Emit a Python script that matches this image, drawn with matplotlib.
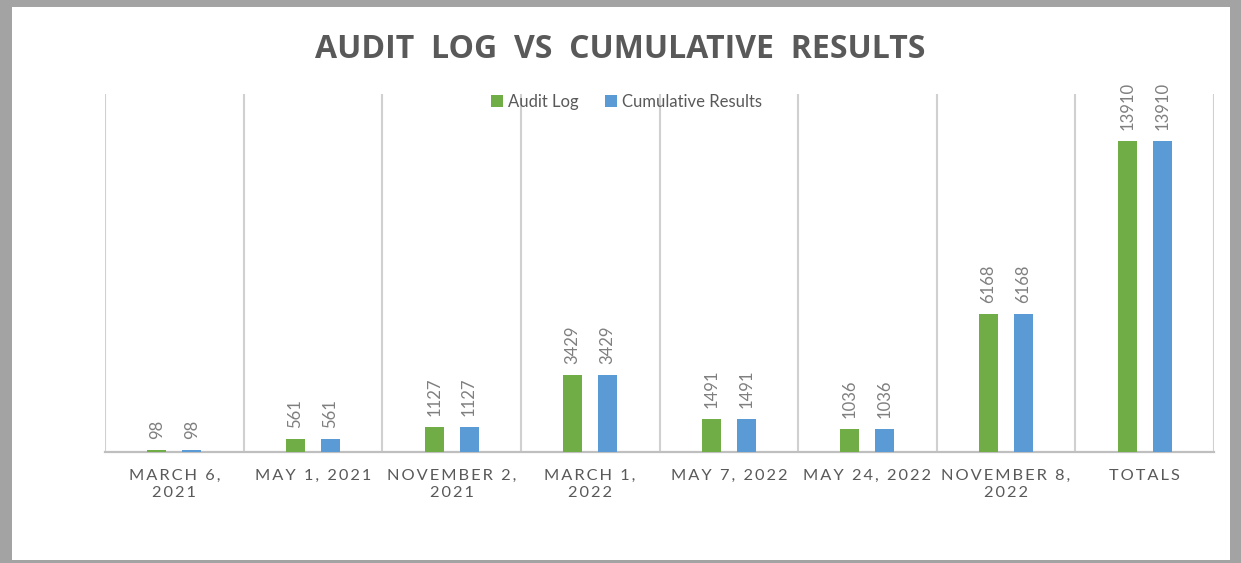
import numpy as np
import matplotlib
matplotlib.use("Agg")
import matplotlib.pyplot as plt
from matplotlib.patches import Rectangle

# chart data
dates = ["MARCH 6,\n2021", "MAY 1, 2021", "NOVEMBER 2,\n2021", "MARCH 1,\n2022",
         "MAY 7, 2022", "MAY 24, 2022", "NOVEMBER 8,\n2022", "TOTALS"]
audit_log = [98, 561, 1127, 3429, 1491, 1036, 6168, 13910]
cumulative = [98, 561, 1127, 3429, 1491, 1036, 6168, 13910]

GREEN = "#70AD47"
BLUE = "#5B9BD5"
TEXT = "#595959"
GRID = "#d0d0d0"


def spaced(s, sep="\u2009"):
    # widen letter spacing line by line
    return "\n".join(sep.join(line) for line in s.split("\n"))


fig = plt.figure(figsize=(12.41, 5.63), dpi=100)
fig.patch.set_facecolor("#a3a3a3")
fig.patches.append(Rectangle((12 / 1241, 1 - 560 / 563), (1230 - 12) / 1241, (560 - 7) / 563,
                             transform=fig.transFigure, facecolor="white", edgecolor="none", zorder=-1))

ax = fig.add_axes([105 / 1241, 1 - 452 / 563, (1214 - 105) / 1241, (452 - 94) / 563])
ax.set_facecolor("none")
ax.set_zorder(2)

x = np.arange(len(dates))
w = 0.137
off = 0.126
b1 = ax.bar(x - off, audit_log, w, color=GREEN, label="Audit Log", zorder=3)
b2 = ax.bar(x + off, cumulative, w, color=BLUE, label="Cumulative Results", zorder=3)

for bars in (b1, b2):
    for rect in bars:
        h = rect.get_height()
        ax.annotate(f"{h:d}", (rect.get_x() + rect.get_width() / 2, h),
                    xytext=(0, 8), textcoords="offset points", rotation=90,
                    ha="center", va="bottom", fontsize=12, color="#7f7f7f",
                    family="Lato")

ax.set_xlim(-0.5, len(dates) - 0.5)
ax.set_ylim(0, 16000)
ax.set_yticks([])

# category separators
for b in np.arange(-0.5, len(dates), 1.0):
    ax.axvline(b, color=GRID, lw=1.5, zorder=1)

for s in ("top", "left", "right"):
    ax.spines[s].set_visible(False)
ax.spines["bottom"].set_color("#bfbfbf")
ax.spines["bottom"].set_linewidth(1.6)

ax.set_xticks(x)
ax.set_xticklabels([spaced(d) for d in dates], fontsize=11.8, color=TEXT,
                   family=["Lato", "DejaVu Sans"], linespacing=1.3)
ax.tick_params(axis="x", length=0, pad=12)

leg = ax.legend(loc="center", bbox_to_anchor=(0.47, 0.978), ncol=2, frameon=False,
                handlelength=0.7, handleheight=0.7, handletextpad=0.3,
                columnspacing=1.6, prop={"family": "Lato", "size": 12})
for t in leg.get_texts():
    t.set_color(TEXT)

fig.text(0.5, 1 - 50 / 563, "AUDIT LOG VS CUMULATIVE RESULTS".replace(" ", "  "),
         ha="center", va="center", fontsize=23, fontweight="bold", color=TEXT,
         family=["Open Sans", "DejaVu Sans"])

fig.savefig("out.png", dpi=100, facecolor=fig.get_facecolor())
